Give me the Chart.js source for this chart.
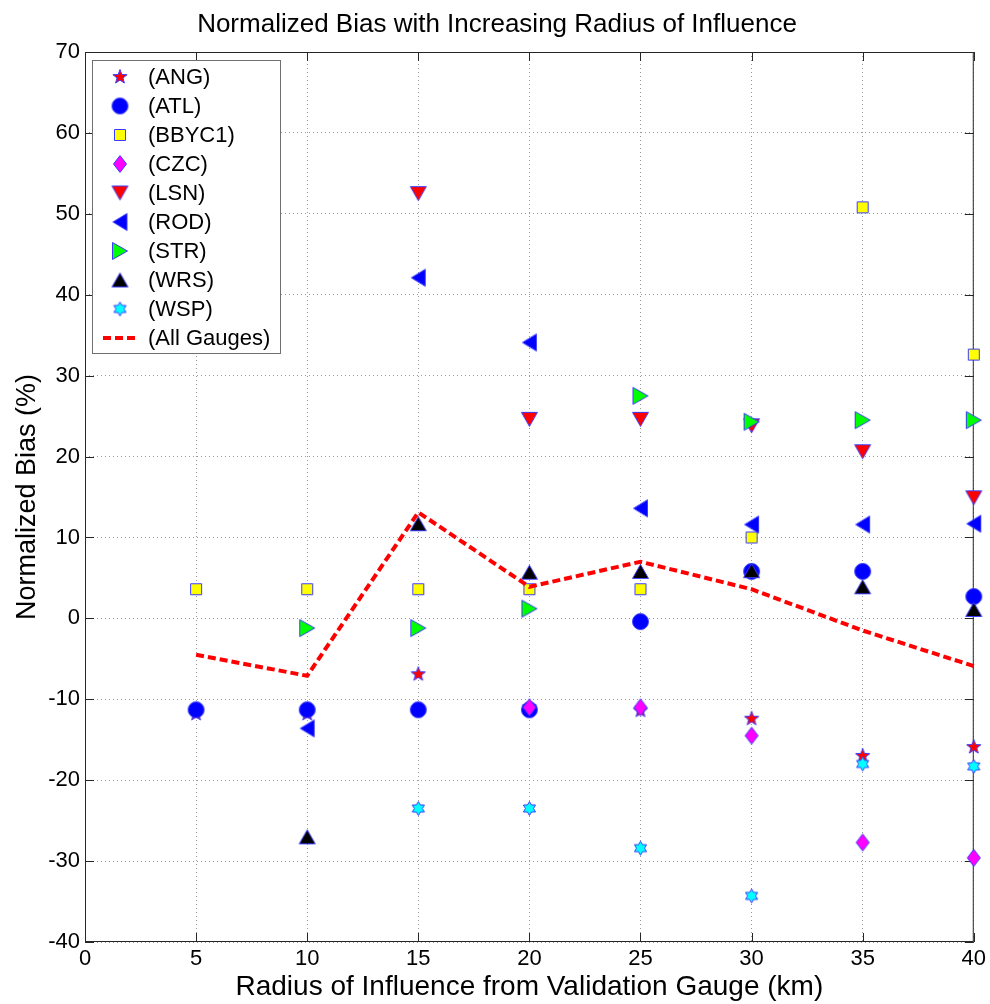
<!DOCTYPE html>
<html>
<head>
<meta charset="utf-8">
<script src="https://cdn.jsdelivr.net/npm/chart.js@4.4.1/dist/chart.umd.min.js"></script>
<style>
  html, body { margin: 0; padding: 0; background: #fff; }
  #wrap { width: 990px; height: 1004px; }
</style>
</head>
<body>
<div id="wrap"><canvas id="chart" width="990" height="1004"></canvas></div>
<script>
// radius of influence (km)
const radius = [5, 10, 15, 20, 25, 30, 35, 40];

// normalized bias (%) per gauge, null = no value at that radius
const ang = [-11.8, -11.8, -6.9, -11.0, -11.4, -12.4, -17.0, -15.9];
const atl = [-11.3, -11.3, -11.3, -11.3, -0.4, 5.8, 5.8, 2.7];
const bbyc1 = [3.6, 3.6, 3.6, 3.6, 3.6, 10.0, 50.8, 32.6];
const czc = [null, null, null, -11.0, -11.0, -14.5, -27.7, -29.6];
const lsn = [null, null, 52.5, 24.6, 24.6, 23.8, 20.6, 14.9];
const rod = [null, -13.6, 42.1, 34.1, 13.6, 11.6, 11.6, 11.7];
const str = [null, -1.2, -1.2, 1.2, 27.5, 24.3, 24.5, 24.5];
const wrs = [null, -27.0, 11.7, 5.7, 5.8, 5.9, 3.9, 1.1];
const wsp = [null, null, -23.5, -23.5, -28.4, -34.3, -18.0, -18.3];
const allGauges = [-4.5, -7.1, 13.1, 3.9, 7.0, 3.6, -1.5, -5.9];

const xTicks = [0, 5, 10, 15, 20, 25, 30, 35, 40];
const yTicks = [-40, -30, -20, -10, 0, 10, 20, 30, 40, 50, 60, 70];

const EDGE = '#3c3cff';
const FONT = '"Liberation Sans", Arial, sans-serif';

// matlab-like marker images
function marker(w, h, fill, path) {
  const c = document.createElement('canvas');
  c.width = w + 3; c.height = h + 3;
  const g = c.getContext('2d');
  g.translate(c.width / 2, c.height / 2);
  g.beginPath();
  path(g, w / 2, h / 2);
  g.closePath();
  g.fillStyle = fill;
  g.fill();
  g.strokeStyle = EDGE;
  g.lineWidth = 1;
  g.stroke();
  return c;
}
function starPath(n, inner) {
  return (g, rx) => {
    for (let i = 0; i < n * 2; i++) {
      const r = i % 2 ? rx * inner : rx;
      const a = -Math.PI / 2 + i * Math.PI / n;
      g.lineTo(r * Math.cos(a), r * Math.sin(a));
    }
  };
}
const mk = {
  star: marker(15, 15, '#ff0000', starPath(5, 0.42)),
  circle: marker(16, 16, '#0000ff', (g, r) => g.arc(0, 0, r, 0, Math.PI * 2)),
  square: marker(11, 11, '#ffff00', (g, w, h) => g.rect(-w, -h, w * 2, h * 2)),
  diamond: marker(13, 17, '#ff00ff', (g, w, h) => { g.moveTo(0, -h); g.lineTo(w, 0); g.lineTo(0, h); g.lineTo(-w, 0); }),
  down: marker(16, 14, '#ff0000', (g, w, h) => { g.moveTo(-w, -h); g.lineTo(w, -h); g.lineTo(0, h); }),
  left: marker(14, 17, '#0000ff', (g, w, h) => { g.moveTo(-w, 0); g.lineTo(w, -h); g.lineTo(w, h); }),
  right: marker(15, 17, '#00ff00', (g, w, h) => { g.moveTo(w, 0); g.lineTo(-w, -h); g.lineTo(-w, h); }),
  up: marker(16, 14, '#000000', (g, w, h) => { g.moveTo(0, -h); g.lineTo(w, h); g.lineTo(-w, h); }),
  hex: marker(14, 14, '#00ffff', starPath(6, 0.58))
};

function pts(vals) {
  return radius.map((r, i) => ({ x: r, y: vals[i] })).filter(p => p.y !== null);
}

const gauges = [
  ['(ANG)', ang, mk.star],
  ['(ATL)', atl, mk.circle],
  ['(BBYC1)', bbyc1, mk.square],
  ['(CZC)', czc, mk.diamond],
  ['(LSN)', lsn, mk.down],
  ['(ROD)', rod, mk.left],
  ['(STR)', str, mk.right],
  ['(WRS)', wrs, mk.up],
  ['(WSP)', wsp, mk.hex]
];

const datasets = gauges.map((g, i) => ({
  type: 'scatter',
  label: g[0],
  data: pts(g[1]),
  pointStyle: g[2],
  pointRadius: 8,
  clip: false,
  order: 20 - i
}));
datasets.push({
  type: 'line',
  label: '(All Gauges)',
  data: pts(allGauges),
  borderColor: '#ff0000',
  borderWidth: 4,
  borderDash: [8, 4],
  pointRadius: 0,
  fill: false,
  clip: false,
  order: 1
});

// axes box with inward ticks, under the markers
const frame = {
  id: 'frame',
  beforeDatasetsDraw(chart) {
    const { ctx, chartArea: a, scales: { x, y } } = chart;
    ctx.save();
    ctx.strokeStyle = '#262626';
    ctx.lineWidth = 1;
    ctx.strokeRect(a.left + 0.5, a.top + 0.5, a.right - a.left - 1, a.bottom - a.top - 1);
    ctx.beginPath();
    xTicks.forEach(v => {
      const px = Math.round(x.getPixelForValue(v)) + 0.5;
      ctx.moveTo(px, a.bottom); ctx.lineTo(px, a.bottom - 9);
      ctx.moveTo(px, a.top); ctx.lineTo(px, a.top + 9);
    });
    yTicks.forEach(v => {
      const py = Math.round(y.getPixelForValue(v)) + 0.5;
      ctx.moveTo(a.left, py); ctx.lineTo(a.left + 9, py);
      ctx.moveTo(a.right, py); ctx.lineTo(a.right - 9, py);
    });
    ctx.stroke();
    ctx.restore();
  },
  afterDraw(chart) {
    const { ctx } = chart;
    ctx.save();
    // title
    ctx.fillStyle = '#000';
    ctx.font = '26px ' + FONT;
    ctx.textAlign = 'center';
    ctx.textBaseline = 'alphabetic';
    ctx.fillText('Normalized Bias with Increasing Radius of Influence', 497, 32);

    // legend box
    const lx = 92, ly = 60, lw = 188, lh = 293;
    ctx.fillStyle = '#fff';
    ctx.fillRect(lx, ly, lw, lh);
    ctx.strokeStyle = '#707070';
    ctx.lineWidth = 1;
    ctx.strokeRect(lx + 0.5, ly + 0.5, lw, lh);
    ctx.font = '22px ' + FONT;
    ctx.textAlign = 'left';
    ctx.textBaseline = 'middle';
    chart.data.datasets.forEach((ds, i) => {
      const ry = 77 + i * 29;
      if (ds.type === 'line') {
        ctx.save();
        ctx.strokeStyle = ds.borderColor;
        ctx.lineWidth = ds.borderWidth;
        ctx.setLineDash(ds.borderDash);
        ctx.beginPath();
        ctx.moveTo(103, ry); ctx.lineTo(139, ry);
        ctx.stroke();
        ctx.restore();
      } else {
        const img = ds.pointStyle;
        ctx.drawImage(img, 120 - img.width / 2, ry - img.height / 2);
      }
      ctx.fillStyle = '#000';
      ctx.fillText(ds.label, 148, ry + 1);
    });
    ctx.restore();
  }
};

const ctx = document.getElementById('chart').getContext('2d');
new Chart(ctx, {
  data: { datasets: datasets },
  options: {
    responsive: false,
    animation: false,
    layout: { padding: { left: 0, right: 15, top: 52, bottom: 0 } },
    plugins: {
      legend: { display: false },
      tooltip: { enabled: false },
      title: { display: false }
    },
    scales: {
      x: {
        type: 'linear',
        min: 0,
        max: 40,
        afterFit: s => { s.height = 62; },
        ticks: { stepSize: 5, color: '#000', padding: 4, font: { family: FONT, size: 22 } },
        grid: { color: '#9a9a9a', lineWidth: 1, drawTicks: false },
        border: { display: false, dash: [1, 3] },
        title: {
          display: true,
          text: 'Radius of Influence from Validation Gauge (km)',
          color: '#000',
          font: { family: FONT, size: 28 },
          padding: { top: 0, bottom: 0 }
        }
      },
      y: {
        type: 'linear',
        min: -40,
        max: 70,
        afterFit: s => { s.width = 85; },
        ticks: { stepSize: 10, color: '#000', padding: 5, font: { family: FONT, size: 22 } },
        grid: { color: '#9a9a9a', lineWidth: 1, drawTicks: false },
        border: { display: false, dash: [1, 3] },
        title: {
          display: true,
          text: 'Normalized Bias (%)',
          color: '#000',
          font: { family: FONT, size: 27 },
          padding: { top: 11, bottom: 0 }
        }
      }
    }
  },
  plugins: [frame]
});
</script>
</body>
</html>
